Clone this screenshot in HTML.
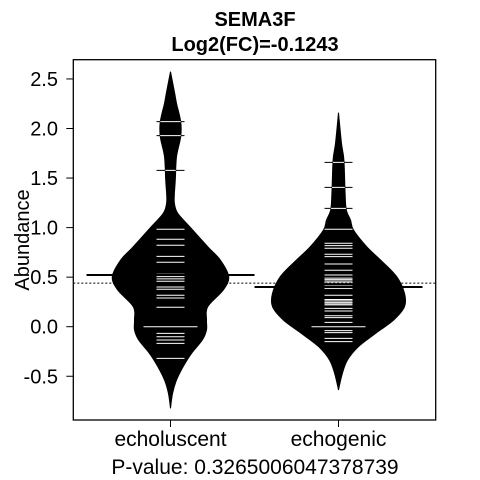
<!DOCTYPE html>
<html><head><meta charset="utf-8"><style>
html,body{margin:0;padding:0;background:#fff;}
svg{display:block;font-family:"Liberation Sans",Arial,sans-serif;}
</style></head><body>
<svg id="chart" width="480" height="480" viewBox="0 0 480 480">
<text x="255" y="26" text-anchor="middle" font-size="20" font-weight="bold">SEMA3F</text>
<text x="255" y="51" text-anchor="middle" font-size="20" font-weight="bold">Log2(FC)=-0.1243</text>
<text transform="translate(29,240) rotate(-90)" text-anchor="middle" font-size="20">Abundance</text>
<text x="255" y="474" text-anchor="middle" font-size="21">P-value: 0.3265006047378739</text>
<g id="plot"></g>
</svg>
<script>
const categories = ["echoluscent", "echogenic"];
const yTicks = [-0.5, 0, 0.5, 1.0, 1.5, 2.0, 2.5];
const yTickLabels = ["-0.5", "0.0", "0.5", "1.0", "1.5", "2.0", "2.5"];
const densityValuesA = [2.573,2.355,2.254,2.069,1.917,1.715,1.480,1.346,1.245,1.144,1.009,0.807,0.673,0.505,0.370,0.202,0.068,-0.033,-0.134,-0.269,-0.404,-0.538,-0.672,-0.823];
const densityA = [0,0.07,0.1,0.17,0.17,0.1,0.08,0.065,0.065,0.12,0.32,0.62,0.83,0.97,0.88,0.62,0.6,0.6,0.53,0.35,0.21,0.1,0.035,0];
const densityValuesB = [2.159,1.850,1.682,1.346,1.178,1.077,0.976,0.807,0.673,0.505,0.337,0.202,0.068,-0.067,-0.202,-0.336,-0.470,-0.639];
const densityB = [0,0.05,0.09,0.11,0.13,0.2,0.25,0.47,0.7,0.97,1.1,1.1,0.92,0.62,0.33,0.15,0.065,0];
const obsA = [2.069,1.928,1.578,0.983,0.882,0.822,0.710,0.650,0.529,0.505,0.482,0.459,0.401,0.378,0.317,0.290,0.196,0.0,-0.067,-0.101,-0.134,-0.168,-0.320];
const obsB = [1.658,1.406,1.194,0.983,0.842,0.818,0.791,0.731,0.707,0.633,0.569,0.522,0.49,0.475,0.46,0.445,0.411,0.387,0.317,0.275,0.26,0.245,0.23,0.22,0.185,0.158,0.111,0.091,0.044,0.0,-0.04,-0.06,-0.118,-0.151];
const groupMeans = [0.522, 0.40];
const overallMean = 0.44;

const NS = "http://www.w3.org/2000/svg";
const L = 73.3, R = 435.7, T = 59.7, B = 420;
const xc = i => 170.5 + i * 168;
const y = v => 326.7 - 99.1 * v;
const dScale = 60;
const plot = document.getElementById("plot");
function mk(tag, attrs, parent) {
  const e = document.createElementNS(NS, tag);
  for (const k in attrs) e.setAttribute(k, attrs[k]);
  (parent || plot).appendChild(e);
  return e;
}
function spline(p) {
  let d = "";
  for (let i = 0; i < p.length - 1; i++) {
    const p0 = p[Math.max(0, i - 1)], p1 = p[i], p2 = p[i + 1], p3 = p[Math.min(p.length - 1, i + 2)];
    const c1 = [p1[0] + (p2[0] - p0[0]) / 6, p1[1] + (p2[1] - p0[1]) / 6];
    const c2 = [p2[0] - (p3[0] - p1[0]) / 6, p2[1] - (p3[1] - p1[1]) / 6];
    d += " C" + c1[0].toFixed(1) + "," + c1[1].toFixed(1) + " " + c2[0].toFixed(1) + "," + c2[1].toFixed(1) + " " + p2[0].toFixed(1) + "," + p2[1].toFixed(1);
  }
  return d;
}
const defs = mk("defs", {});
const beans = [[densityValuesA, densityA, obsA], [densityValuesB, densityB, obsB]];
beans.forEach((b, i) => {
  const [vals, dens, obs] = b;
  const cx = xc(i);
  const right = vals.map((v, j) => [cx + dens[j] * dScale, y(v)]);
  const left = vals.map((v, j) => [cx - dens[j] * dScale, y(v)]).reverse();
  const d = "M" + right[0][0].toFixed(1) + "," + right[0][1].toFixed(1) + spline(right) + spline(left) + " Z";
  const cp = mk("clipPath", { id: "clip" + i }, defs);
  mk("path", { d: d }, cp);
  const poly = mk("path", { d: d, fill: "#000", stroke: "#000", "stroke-width": "1" });
  
  
  obs.forEach(v => {
    const hw = v === 0 ? 27 : 14;
    const lb = mk("line", { x1: cx - hw, x2: cx + hw, y1: y(v), y2: y(v), stroke: "#000", "stroke-width": "1" });
    
    
    const lw = mk("line", { x1: cx - hw, x2: cx + hw, y1: y(v), y2: y(v), stroke: "#fff", "stroke-width": "1", "clip-path": "url(#clip" + i + ")" });
    
    
  });
  const m = mk("line", { x1: cx - 84, x2: cx + 84, y1: y(groupMeans[i]), y2: y(groupMeans[i]), stroke: "#000", "stroke-width": "2" });
  
  
  const t = mk("line", { x1: cx, x2: cx, y1: B, y2: B + 7, stroke: "#000", "stroke-width": "1" });
  
  
  const tx = mk("text", { x: cx, y: 446, "text-anchor": "middle", "font-size": "21" });
  tx.textContent = categories[i];
  
  
});
const om = mk("line", { x1: L, x2: R, y1: y(overallMean), y2: y(overallMean), stroke: "#000", "stroke-width": "1", "stroke-dasharray": "2,2" });


yTicks.forEach((v, k) => {
  const t = mk("line", { x1: L - 7, x2: L, y1: y(v), y2: y(v), stroke: "#000", "stroke-width": "1" });
  
  
  const tx = mk("text", { x: 58, y: y(v) + 7, "text-anchor": "end", "font-size": "20" });
  tx.textContent = yTickLabels[k];
  
  
});
const frame = mk("rect", { x: L, y: T, width: R - L, height: B - T, fill: "none", stroke: "#000", "stroke-width": "1.3" });


</script>
</body></html>
